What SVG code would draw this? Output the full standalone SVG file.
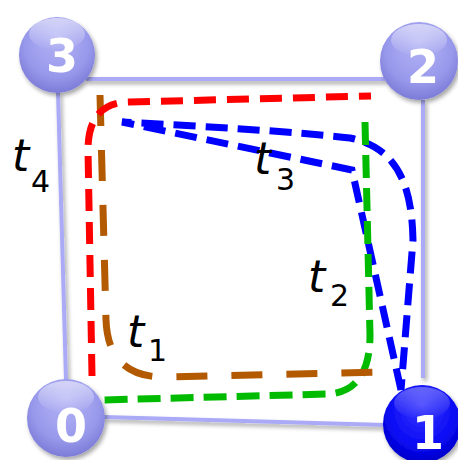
<svg xmlns="http://www.w3.org/2000/svg" width="458" height="460" viewBox="0 0 458 460">
<defs>
<radialGradient id="gL" cx="50%" cy="40%" r="60%" fx="50%" fy="25%">
<stop offset="0" stop-color="#b4b4f6"/>
<stop offset="0.7" stop-color="#9999ec"/>
<stop offset="1" stop-color="#7c7cd8"/>
</radialGradient>
<radialGradient id="gD" cx="50%" cy="40%" r="60%" fx="50%" fy="25%">
<stop offset="0" stop-color="#3a3aff"/>
<stop offset="0.7" stop-color="#0a0af5"/>
<stop offset="1" stop-color="#0000c8"/>
</radialGradient>
<linearGradient id="hl" x1="0" y1="0" x2="0" y2="1">
<stop offset="0" stop-color="#ffffff" stop-opacity="0.55"/>
<stop offset="1" stop-color="#ffffff" stop-opacity="0"/>
</linearGradient>
<filter id="sh" x="-30%" y="-30%" width="160%" height="160%">
<feDropShadow dx="2" dy="3" stdDeviation="2" flood-color="#000" flood-opacity="0.35"/>
</filter>
</defs>
<style>
.edge{stroke:#aaaaf6;stroke-width:4;fill:none}
.p{fill:none;stroke-width:7}
.num{font-family:"DejaVu Sans",Verdana,sans-serif;font-weight:bold;font-size:46px;fill:#ffffff;text-anchor:middle}
.lbl{font-family:"DejaVu Sans",Verdana,sans-serif;font-style:italic;font-size:44px;fill:#000}
.sub{font-style:normal;font-size:30px}
</style>
<g id="edges" filter="url(#sh)">
<path class="edge" d="M86 79 L385 79"/>
<path class="edge" d="M58 92 L66 380"/>
<path class="edge" d="M104 417 L385 425"/>
<path class="edge" d="M423 100 L423 378"/>
</g>
<g id="connectors">
<path id="t3" class="p" stroke="#0000ff" stroke-dasharray="22 10" d="M401 390 L352 170 L122 122 C200 126 300 132 350 138 C400 148 412 190 413 240 L401 390"/>
<path id="t2" class="p" stroke="#00bb00" stroke-width="6" stroke-dasharray="23 10" d="M365 122 L370 335 Q370 390 330 394 L100 400"/>
<path id="t1" class="p" stroke="#b35900" stroke-width="6" stroke-dasharray="31 24" d="M100 95 L106 320 Q108 375 160 377 L380 372"/>
<path id="t4" class="p" stroke="#ff0000" stroke-dasharray="22 11" d="M92 376 L88 150 Q88 102 130 102 L371 96"/>
</g>
<g id="labels">
<text class="lbl" x="12" y="171">t<tspan class="sub" x="31" y="192">4</tspan></text>
<text class="lbl" x="254" y="174">t<tspan class="sub" x="276" y="190">3</tspan></text>
<text class="lbl" x="308" y="292">t<tspan class="sub" x="330" y="306">2</tspan></text>
<text class="lbl" x="127" y="347">t<tspan class="sub" x="148" y="361">1</tspan></text>
</g>
<g id="node3" filter="url(#sh)">
<circle cx="57" cy="55" r="38" fill="url(#gL)"/>
<ellipse cx="57" cy="34" rx="28" ry="16" fill="url(#hl)"/>
<text class="num" x="62" y="72">3</text>
</g>
<g id="node2" filter="url(#sh)">
<circle cx="419" cy="61" r="39" fill="url(#gL)"/>
<ellipse cx="419" cy="40" rx="28" ry="16" fill="url(#hl)"/>
<text class="num" x="423" y="83">2</text>
</g>
<g id="node0" filter="url(#sh)">
<circle cx="66" cy="418" r="39" fill="url(#gL)"/>
<ellipse cx="66" cy="397" rx="28" ry="16" fill="url(#hl)"/>
<text class="num" x="71" y="442">0</text>
</g>
<g id="node1" filter="url(#sh)">
<circle cx="422" cy="424" r="39" fill="url(#gD)"/>
<ellipse cx="422" cy="403" rx="28" ry="16" fill="url(#hl)" opacity="0.6"/>
<text class="num" x="428" y="449">1</text>
</g>
</svg>
